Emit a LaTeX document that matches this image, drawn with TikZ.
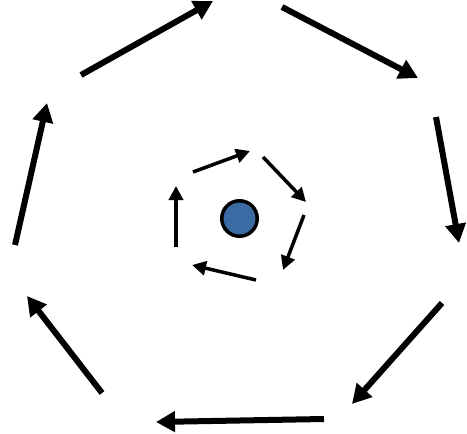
\documentclass[tikz,border=0pt]{standalone}
\usetikzlibrary{arrows.meta}
\definecolor{dotblue}{HTML}{3B6BA3}
\tikzset{
  bigarrow/.style={line width=6pt,-{Triangle[length=19pt,width=20pt]}},
  smallarrow/.style={line width=3.5pt,-{Triangle[length=14pt,width=14pt]}},
  dot/.style={circle,draw=black,line width=3.5pt,fill=dotblue,minimum size=35.5pt,inner sep=0pt}
}
\begin{document}
\begin{tikzpicture}[x=1pt,y=-1pt]
\useasboundingbox (0,0) rectangle (467,434);
\node[dot] (c) at (239.5,218.5) {};
% outer
\coordinate (o1s) at (81,75);   \coordinate (o1e) at (213,1);
\coordinate (o2s) at (282,7);   \coordinate (o2e) at (418,78);
\coordinate (o3s) at (436,117); \coordinate (o3e) at (459,243);
\coordinate (o4s) at (442,303); \coordinate (o4e) at (352,404);
\coordinate (o5s) at (324,419); \coordinate (o5e) at (156,422);
\coordinate (o6s) at (102,393); \coordinate (o6e) at (27,296);
\coordinate (o7s) at (15,245);  \coordinate (o7e) at (47,103);
\draw[bigarrow] (o1s) -- (o1e);
\draw[bigarrow] (o2s) -- (o2e);
\draw[bigarrow] (o3s) -- (o3e);
\draw[bigarrow] (o4s) -- (o4e);
\draw[bigarrow] (o5s) -- (o5e);
\draw[bigarrow] (o6s) -- (o6e);
\draw[bigarrow] (o7s) -- (o7e);
% inner
\coordinate (i1s) at (193,172); \coordinate (i1e) at (250,151);
\coordinate (i2s) at (263,157); \coordinate (i2e) at (306,202);
\coordinate (i3s) at (304,215); \coordinate (i3e) at (283,270);
\coordinate (i4s) at (256,280); \coordinate (i4e) at (192,265);
\coordinate (i5s) at (176,247); \coordinate (i5e) at (176,186);
\draw[smallarrow] (i1s) -- (i1e);
\draw[smallarrow] (i2s) -- (i2e);
\draw[smallarrow] (i3s) -- (i3e);
\draw[smallarrow] (i4s) -- (i4e);
\draw[smallarrow] (i5s) -- (i5e);
\end{tikzpicture}
\end{document}
